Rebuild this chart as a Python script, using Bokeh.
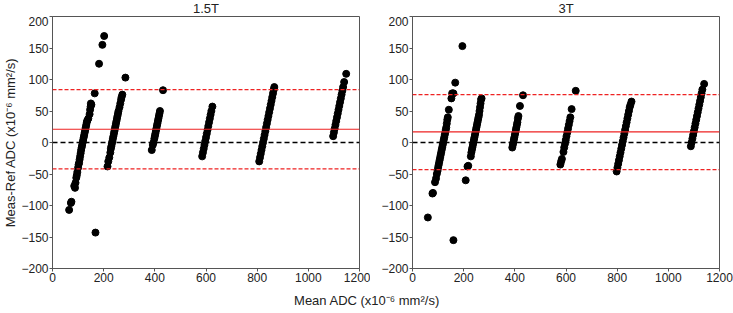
from bokeh.plotting import figure
from bokeh.layouts import column, row
from bokeh.models import Span, FixedTicker, Title, ColumnDataSource, Label
from bokeh.embed import file_html
from bokeh.resources import INLINE

# ---------------- data ----------------
x_ticks = [0, 200, 400, 600, 800, 1000, 1200]
y_ticks = [-200, -150, -100, -50, 0, 50, 100, 150, 200]
panel_titles = ["1.5T", "3T"]

# 1.5T panel: mean ADC, difference (Meas-Ref)
mean_15 = [65, 72, 74, 85, 88, 90, 93, 95, 97, 100, 102, 104, 106, 108, 110, 112, 114, 116, 118, 120,
           122, 124, 126, 128, 130, 132, 134, 136, 140, 145, 147, 149, 150, 152, 165, 182, 195, 202, 168,
           215, 218, 222, 226, 228, 230, 232, 234, 236, 238, 240, 242, 244, 246, 248, 250, 252, 254, 256,
           258, 262, 265, 268, 270, 273, 285,
           388, 392, 395, 398, 400, 402, 404, 406, 408, 410, 412, 414, 416, 418, 420, 432,
           585, 588, 591, 594, 597, 600, 603, 606, 609, 612, 615, 618, 621, 625,
           808, 811, 814, 817, 820, 823, 826, 829, 832, 835, 838, 841, 844, 847, 850, 853, 856, 859, 862,
           865, 867,
           1097, 1100, 1103, 1106, 1109, 1112, 1115, 1118, 1121, 1124, 1127, 1130, 1133, 1136, 1140, 1148]
diff_15 = [-107, -96, -94, -69, -72, -64, -56, -52, -47, -40, -35, -32, -27, -22, -17, -12, -8, -4, 0, 4,
           8, 12, 16, 20, 24, 28, 32, 35, 38, 45, 52, 57, 62, 60, 78, 125, 155, 169, -143,
           -38, -30, -24, -16, -10, -6, -2, 2, 6, 10, 14, 18, 22, 26, 30, 34, 38, 42, 46,
           50, 56, 62, 68, 72, 76, 103,
           -12, -4, 0, 6, 10, 14, 18, 22, 26, 30, 34, 38, 42, 46, 50, 83,
           -22, -16, -10, -4, 2, 8, 14, 20, 26, 32, 38, 44, 50, 57,
           -30, -24, -18, -12, -6, 0, 6, 12, 18, 24, 30, 36, 42, 48, 54, 60, 66, 72, 78,
           84, 88,
           10, 16, 22, 28, 34, 40, 46, 52, 58, 64, 70, 76, 82, 88, 96, 109]
bias_15 = 21
upper_15 = 84
lower_15 = -42

# 3T panel
mean_3 = [60, 78, 80, 88, 92, 95, 98, 100, 102, 104, 106, 108, 110, 112, 114, 116, 118, 120, 122, 124,
          126, 128, 130, 132, 134, 136, 138, 142, 152, 155, 160, 167, 195, 160,
          208, 215, 218, 228, 230, 232, 234, 236, 238, 240, 242, 244, 246, 248, 250, 252, 254, 256, 258,
          260, 262, 264, 266, 268, 270,
          390, 392, 394, 396, 398, 400, 402, 404, 406, 408, 410, 412, 414, 420, 432,
          578, 581, 584, 590, 593, 596, 599, 602, 605, 608, 611, 614, 617, 622, 638,
          798, 801, 804, 807, 810, 813, 816, 819, 822, 825, 828, 831, 834, 837, 840, 843, 846, 849, 852, 856,
          1088, 1091, 1094, 1097, 1100, 1103, 1106, 1109, 1112, 1115, 1118, 1121, 1124, 1127, 1130, 1133, 1140]
diff_3 = [-119, -81, -80, -63, -57, -50, -45, -40, -36, -32, -28, -24, -20, -16, -12, -8, -4, 0, 4, 8,
          12, 16, 20, 24, 30, 36, 40, 52, 70, 78, 78, 95, 153, -155,
          -60, -38, -37, -22, -16, -12, -8, -4, 0, 4, 8, 12, 16, 20, 24, 28, 32, 36, 40,
          44, 50, 56, 62, 68, 70,
          -8, -4, 0, 4, 8, 12, 16, 20, 24, 28, 32, 38, 42, 58, 75,
          -35, -30, -26, -15, -8, -2, 4, 10, 16, 22, 28, 34, 40, 53, 82,
          -46, -40, -34, -28, -22, -16, -10, -4, 2, 8, 14, 20, 26, 32, 38, 44, 50, 56, 60, 65,
          -6, 0, 6, 12, 18, 24, 30, 36, 42, 48, 54, 60, 66, 72, 78, 84, 93]
bias_3 = 17
upper_3 = 76
lower_3 = -43

FONT = "Liberation Sans"
Y_LABEL = "Meas-Ref ADC (x10\u207b\u2076 mm\u00b2/s)"
X_LABEL = "Mean ADC (x10\u207b\u2076 mm\u00b2/s)"

PANEL_W = [370, 363]
BORDER_L = [52, 42]
BORDER_R = [11, 14]


def panel(xs, ys, bias, upper, lower, width, left, right, ylabel):
    p = figure(width=width, height=274, x_range=(0, 1200), y_range=(-200, 200),
               toolbar_location=None, output_backend="svg",
               min_border_left=left, min_border_right=right,
               min_border_top=0, min_border_bottom=22)
    p.grid.visible = False
    p.outline_line_color = "#555555"
    p.outline_line_width = 1
    for ax in (p.xaxis[0], p.yaxis[0]):
        ax.axis_line_color = "#555555"
        ax.major_tick_line_color = "#555555"
        ax.major_tick_out = 3
        ax.major_tick_in = 0
        ax.minor_tick_line_color = None
        ax.major_label_text_font = FONT
        ax.major_label_text_font_size = "12px"
        ax.major_label_text_color = "#222222"
        ax.major_label_standoff = 1
    p.xaxis.ticker = FixedTicker(ticks=x_ticks)
    p.yaxis.ticker = FixedTicker(ticks=y_ticks)
    if ylabel:
        p.yaxis.axis_label = ylabel
        p.yaxis.axis_label_text_font = FONT
        p.yaxis.axis_label_text_font_size = "13px"
        p.yaxis.axis_label_text_font_style = "normal"
        p.yaxis.axis_label_text_color = "#222222"
        p.yaxis.axis_label_standoff = 0

    p.add_layout(Span(location=0, dimension="width", line_color="black",
                      line_width=1.5, line_dash="5 3"))
    p.add_layout(Span(location=bias, dimension="width", line_color="#ee2222", line_width=1.2))
    p.add_layout(Span(location=upper, dimension="width", line_color="#ee2222",
                      line_width=1.2, line_dash="4 2"))
    p.add_layout(Span(location=lower, dimension="width", line_color="#ee2222",
                      line_width=1.2, line_dash="4 2"))

    src = ColumnDataSource(dict(x=xs, y=ys))
    p.scatter("x", "y", source=src, size=7, color="black", line_color="black")
    return p


p1 = panel(mean_15, diff_15, bias_15, upper_15, lower_15, PANEL_W[0], BORDER_L[0], BORDER_R[0], Y_LABEL)
p2 = panel(mean_3, diff_3, bias_3, upper_3, lower_3, PANEL_W[1], BORDER_L[1], BORDER_R[1], None)

# title strip above the two panels (pixel coordinates)
pt = figure(width=733, height=16, x_range=(0, 733), y_range=(0, 16), toolbar_location=None,
            output_backend="svg", min_border=0, outline_line_color=None)
pt.axis.visible = False
pt.grid.visible = False
x0 = 0
for i, name in enumerate(panel_titles):
    cx = x0 + BORDER_L[i] + (PANEL_W[i] - BORDER_L[i] - BORDER_R[i]) / 2
    pt.add_layout(Label(x=cx, y=8, text=name, text_align="center", text_baseline="middle",
                        text_font=FONT, text_font_size="13px", text_color="#222222"))
    x0 += PANEL_W[i]

p3 = figure(width=733, height=23, toolbar_location=None, output_backend="svg",
            min_border=0, outline_line_color=None)
p3.axis.visible = False
p3.grid.visible = False
t = Title(text=X_LABEL, align="center", text_font=FONT, text_font_size="13px",
          text_font_style="normal", text_color="#222222", standoff=0, offset=0)
p3.add_layout(t, "above")

layout = column(pt, row(p1, p2), p3)
open("out.html", "w").write(file_html(layout, INLINE))
